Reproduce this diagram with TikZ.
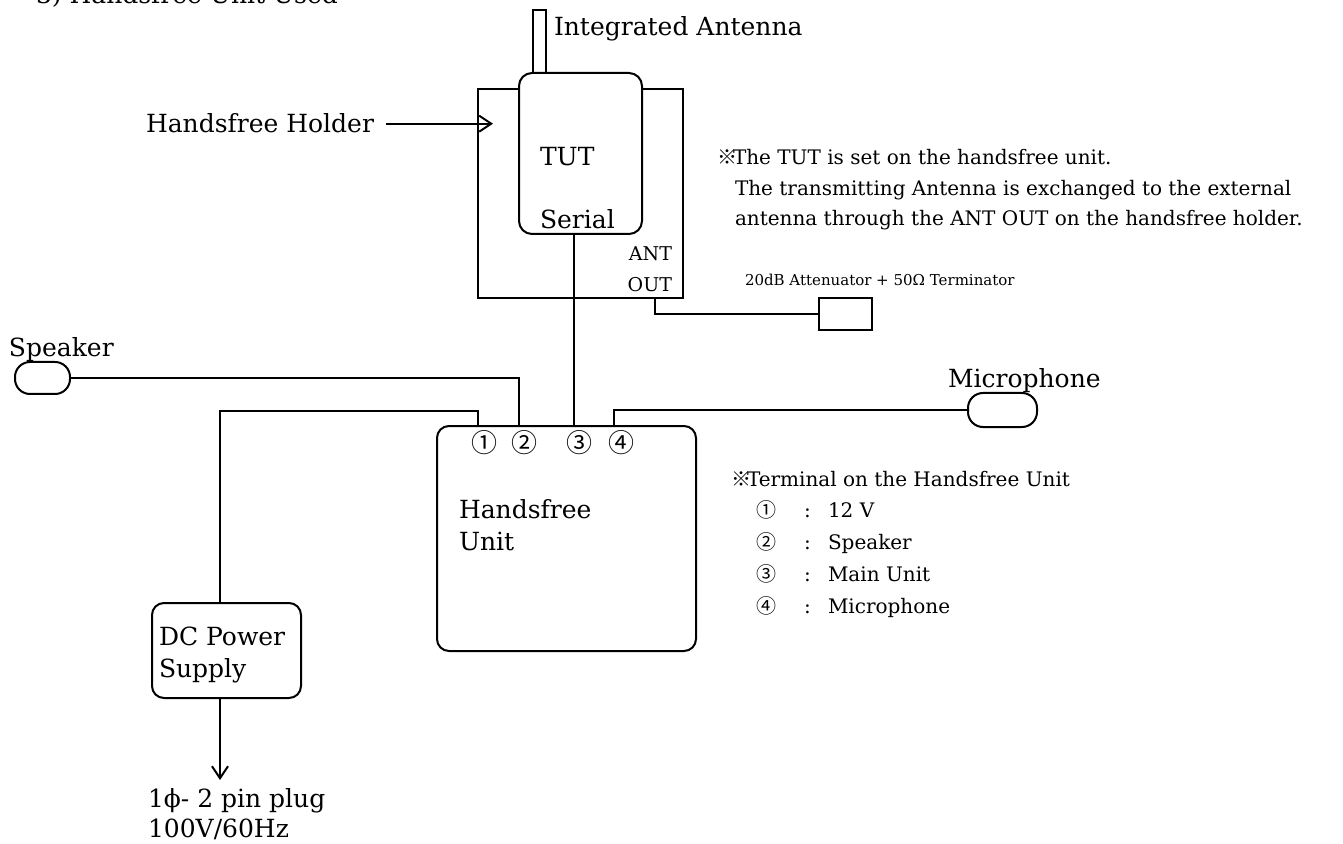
\documentclass[tikz,border=0pt]{standalone}
\usepackage{fontspec}
\setmainfont{DejaVu Serif}
\newfontfamily\cjk{Noto Sans CJK JP}
\usetikzlibrary{arrows.meta}
\begin{document}
\begin{tikzpicture}[x=0.5pt,y=-0.5pt,line width=1pt,
  box/.style={draw,inner sep=0pt,outer sep=0pt,fill=white},
  rbox/.style={box,rounded corners=6pt},
  pill/.style={box,rounded corners=7.5pt},
  lbl/.style={inner sep=0pt,anchor=base west,font=\fontsize{12.5}{15}\selectfont},
  note/.style={inner sep=0pt,anchor=base west,font=\fontsize{10}{15}\selectfont},
  small/.style={inner sep=0pt,anchor=base east,font=\fontsize{9.5}{12}\selectfont},
  dig/.style={inner sep=0pt,font=\cjk\fontsize{13}{15}\selectfont},
  tip/.style={-{Straight Barb[length=6pt,width=8pt]}}]
\useasboundingbox (0,0) rectangle (1343,844);

% title (cut at top, as in the reference)
\node[lbl] (title) at (35,4) {3) Handsfree Unit Used};

% holder and TUT
\node[box,minimum width=102.5pt,minimum height=104.5pt] (holder) at (580.5,193.5) {};
\node[rbox,rounded corners=6.5pt,minimum width=61.5pt,minimum height=80.5pt] (tut) at (580.5,153.5) {};
\draw ([xshift=7pt]tut.north west) -- ++(0,-63) -| ([xshift=13.5pt]tut.north west);
\node[lbl] (antl) at (553,36) {Integrated Antenna};
\node[lbl] (tutl) at (539,166) {TUT};
\node[lbl] (serl) at (539,229) {Serial};
\node[small] (antl1) at (673,261) {ANT};
\node[small] (antl2) at (673,292) {OUT};

\node[lbl] (hhl) at (145,133) {Handsfree Holder};
\draw[tip] ([xshift=5.5pt]hhl.east) -- ([xshift=7.5pt]holder.west |- hhl.east);

% attenuator
\node[box,minimum width=26.5pt,minimum height=16pt] (att) at (845.5,314) {};
\node[inner sep=0pt,anchor=base west,font=\fontsize{7.5}{9}\selectfont] (attl) at (744,286) {20dB Attenuator + 50Ω Terminator};
\draw ([xshift=37.25pt]holder.south) |- (att.west);

% note 1
\node[note] (n1a) at (716,165) {{\cjk ※}\kern-2pt The TUT is set on the handsfree unit.};
\node[note] (n1b) at (734,196) {The transmitting Antenna is exchanged to the external};
\node[note] (n1c) at (734,226) {antenna through the ANT OUT on the handsfree holder.};

% speaker, microphone
\node[pill,minimum width=27.5pt,minimum height=16pt] (spk) at (42.5,378) {};
\node[lbl] (spkl) at (8,357) {Speaker};
\node[pill,minimum width=34.5pt,minimum height=17pt] (mic) at (1002.5,410) {};
\node[lbl] (micl) at (947,387) {Microphone};

% handsfree unit
\node[rbox,minimum width=129.5pt,minimum height=112.5pt] (hu) at (566.5,538.5) {};
\coordinate (t1) at ([xshift=20.5pt]hu.north west);
\coordinate (t2) at ([xshift=41pt]hu.north west);
\coordinate (t3) at ([xshift=68.5pt]hu.north west);
\coordinate (t4) at ([xshift=88.5pt]hu.north west);
\node[dig] (d1) at (484,443) {①};
\node[dig] (d2) at (524,443) {②};
\node[dig] (d3) at (579,443) {③};
\node[dig] (d4) at (621,443) {④};
\node[lbl] (hul1) at (458,518) {Handsfree};
\node[lbl] (hul2) at (458,550) {Unit};

% terminal note
\node[note] (tn) at (730,486) {{\cjk ※}\kern-2pt Terminal on the Handsfree Unit};
\node[note] (r1) at (755,517) {\makebox[24pt][l]{\cjk ①}\makebox[12pt][l]{:}12 V};
\node[note] (r2) at (755,549) {\makebox[24pt][l]{\cjk ②}\makebox[12pt][l]{:}Speaker};
\node[note] (r3) at (755,581) {\makebox[24pt][l]{\cjk ③}\makebox[12pt][l]{:}Main Unit};
\node[note] (r4) at (755,613) {\makebox[24pt][l]{\cjk ④}\makebox[12pt][l]{:}Microphone};

% DC power supply
\node[rbox,minimum width=74.5pt,minimum height=47.5pt] (dc) at (226.5,650.5) {};
\node[lbl] (dcl1) at (158,645) {DC Power};
\node[lbl] (dcl2) at (158,677) {Supply};
\node[lbl] (plug1) at (147,807) {1ϕ- 2 pin plug};
\node[lbl] (plug2) at (147,837) {100V/60Hz};

% connectors
\draw ([xshift=-3.25pt]dc.north) |- ([yshift=7.5pt]t1) -- (t1);
\draw (spk.east) -| (t2);
\draw (tut.south -| t3) -- (t3);
\draw (t4) |- (mic.west);
\draw[tip] ([xshift=-3.25pt]dc.south) -- ([xshift=-3.25pt,yshift=-41pt]dc.south);
\end{tikzpicture}
\end{document}
